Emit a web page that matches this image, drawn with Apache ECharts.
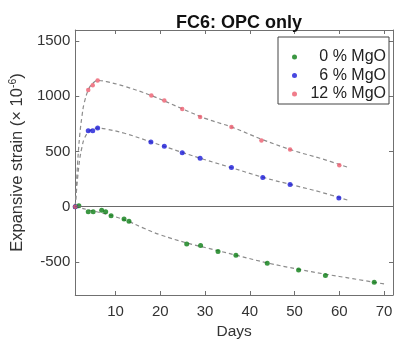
<!DOCTYPE html>
<html>
<head>
<meta charset="utf-8">
<script src="https://cdn.jsdelivr.net/npm/echarts@6/dist/echarts.min.js"></script>
<style>html,body{margin:0;padding:0;background:#fff}#c{width:396px;height:345px}</style>
</head>
<body>
<div id="c"></div>
<script>
var xTicks = [10, 20, 30, 40, 50, 60, 70];
var yTicks = [-500, 0, 500, 1000, 1500];

var seriesNames = ['0 % MgO', '6 % MgO', '12 % MgO'];

var days0 = [1, 1.8, 3.9, 5.0, 6.9, 7.8, 9.0, 11.9, 13.0, 25.9, 29.0, 32.9, 36.9, 43.9, 50.9, 56.9, 67.8];
var strain0 = [0, 9, -45, -45, -33, -45, -82, -112, -133, -339, -352, -406, -440, -512, -573, -624, -685];

var days6 = [1, 3.9, 4.9, 6.0, 17.9, 20.9, 24.9, 28.9, 35.9, 42.9, 49.0, 59.9];
var strain6 = [0, 688, 688, 712, 585, 548, 488, 439, 355, 264, 200, 79];

var days12 = [1, 3.9, 4.9, 6.0, 18.0, 20.9, 24.9, 28.9, 35.9, 42.6, 49.0, 60.0];
var strain12 = [0, 1057, 1100, 1143, 1006, 961, 885, 812, 721, 600, 518, 375];

// dashed fitted curves
var fitDays0 = [1, 2, 4, 6, 8, 10, 13, 16, 20, 26, 30, 37, 44, 51, 57, 63, 70];
var fitStrain0 = [0, -10, -30, -48, -68, -92, -135, -190, -255, -330, -370, -440, -510, -568, -612, -652, -700];

var fitDays6 = [1, 1.5, 2, 2.5, 3, 4, 5, 6, 8, 12, 18, 25, 30, 36, 43, 50, 56, 62];
var fitStrain6 = [0, 250, 430, 540, 615, 680, 705, 712, 702, 665, 585, 490, 425, 352, 265, 192, 130, 58];

var fitDays12 = [1, 1.5, 2, 2.5, 3, 4, 5, 6, 8, 12, 18, 25, 30, 36, 43, 50, 56, 62];
var fitStrain12 = [0, 380, 650, 820, 940, 1065, 1120, 1143, 1132, 1090, 1006, 885, 800, 720, 605, 505, 435, 355];

function pairs(xs, ys) { return xs.map(function (x, i) { return [x, ys[i]]; }); }

var colors = ['#0b7d14', '#1a1ad8', '#ec5c6e'];
var axisGray = '#707070';
var font = 'Liberation Sans, Arial, sans-serif';

var chart = echarts.init(document.getElementById('c'), null, { renderer: 'canvas' });

function fit(xs, ys) {
  return {
    type: 'line', data: pairs(xs, ys), smooth: 0.4, symbol: 'none', silent: true,
    lineStyle: { color: '#8c8c8c', width: 1.2, type: [4, 3] }, z: 1
  };
}
function pts(name, xs, ys, col, size) {
  return {
    name: name, type: 'scatter', data: pairs(xs, ys), symbol: 'circle', symbolSize: size,
    itemStyle: { color: col }, z: 3
  };
}

var fitZero = fit(fitDays0, fitStrain0);
fitZero.markLine = {
  silent: true, symbol: 'none', label: { show: false },
  lineStyle: { color: '#6a6a6a', width: 1, type: 'solid' },
  data: [{ yAxis: 0 }]
};

function plain(v) { return String(v); }

chart.setOption({
  animation: false,
  textStyle: { fontFamily: font },
  title: {
    text: 'FC6: OPC only', left: 234, top: 9, textAlign: 'center',
    textStyle: { fontFamily: font, fontSize: 18, fontWeight: 'bold', color: '#111' }
  },
  grid: { left: 73, right: 3, top: 30, bottom: 50, containLabel: false },
  legend: {
    data: seriesNames, orient: 'vertical', left: 278, top: 37,
    borderColor: '#444', borderWidth: 1, padding: [12, 3, 2, 14], itemGap: 2.5,
    itemWidth: 5, itemHeight: 5, icon: 'circle',
    formatter: '{a|{name}}',
    textStyle: { fontFamily: font, fontSize: 16, color: '#222',
      rich: { a: { fontFamily: font, fontSize: 16, color: '#222', width: 84, align: 'right', lineHeight: 17 } } }
  },
  xAxis: [{
    type: 'value', min: 1, max: 72, name: 'Days', nameLocation: 'middle', nameGap: 29,
    nameTextStyle: { fontFamily: font, fontSize: 15.5, color: '#333' },
    axisLine: { show: true, onZero: false, lineStyle: { color: axisGray } },
    axisTick: { show: true, inside: true, length: 4, customValues: xTicks, lineStyle: { color: axisGray } },
    axisLabel: { customValues: xTicks, formatter: plain, fontFamily: font, fontSize: 15, color: '#333', margin: 9 },
    splitLine: { show: false }
  }, {
    type: 'value', min: 1, max: 72, position: 'top',
    axisLine: { show: true, onZero: false, lineStyle: { color: axisGray } },
    axisTick: { show: true, inside: true, length: 4, customValues: xTicks, lineStyle: { color: axisGray } },
    axisLabel: { show: false }, splitLine: { show: false }
  }],
  yAxis: [{
    type: 'value', min: -800, max: 1600,
    name: 'Expansive strain (\u00d7 10{sup|-6})', nameLocation: 'middle', nameGap: 38, nameRotate: 90,
    nameTextStyle: { fontFamily: font, fontSize: 16.5, color: '#333',
      rich: { sup: { fontFamily: font, fontSize: 10.5, color: '#333', verticalAlign: 'top', padding: [0, 0, 8, 0] } } },
    axisLine: { show: true, onZero: false, lineStyle: { color: axisGray } },
    axisTick: { show: true, inside: true, length: 4, customValues: yTicks, lineStyle: { color: axisGray } },
    axisLabel: { customValues: yTicks, formatter: plain, fontFamily: font, fontSize: 15, color: '#333', margin: 5 },
    splitLine: { show: false }
  }, {
    type: 'value', min: -800, max: 1600, position: 'right',
    axisLine: { show: true, onZero: false, lineStyle: { color: axisGray } },
    axisTick: { show: true, inside: true, length: 4, customValues: yTicks, lineStyle: { color: axisGray } },
    axisLabel: { show: false }, splitLine: { show: false }
  }],
  series: [
    fitZero,
    fit(fitDays6, fitStrain6),
    fit(fitDays12, fitStrain12),
    pts(seriesNames[0], days0, strain0, colors[0], 5),
    pts(seriesNames[1], days6, strain6, colors[1], 5),
    pts(seriesNames[2], days12, strain12, colors[2], 4.5)
  ]
});
</script>
</body>
</html>
